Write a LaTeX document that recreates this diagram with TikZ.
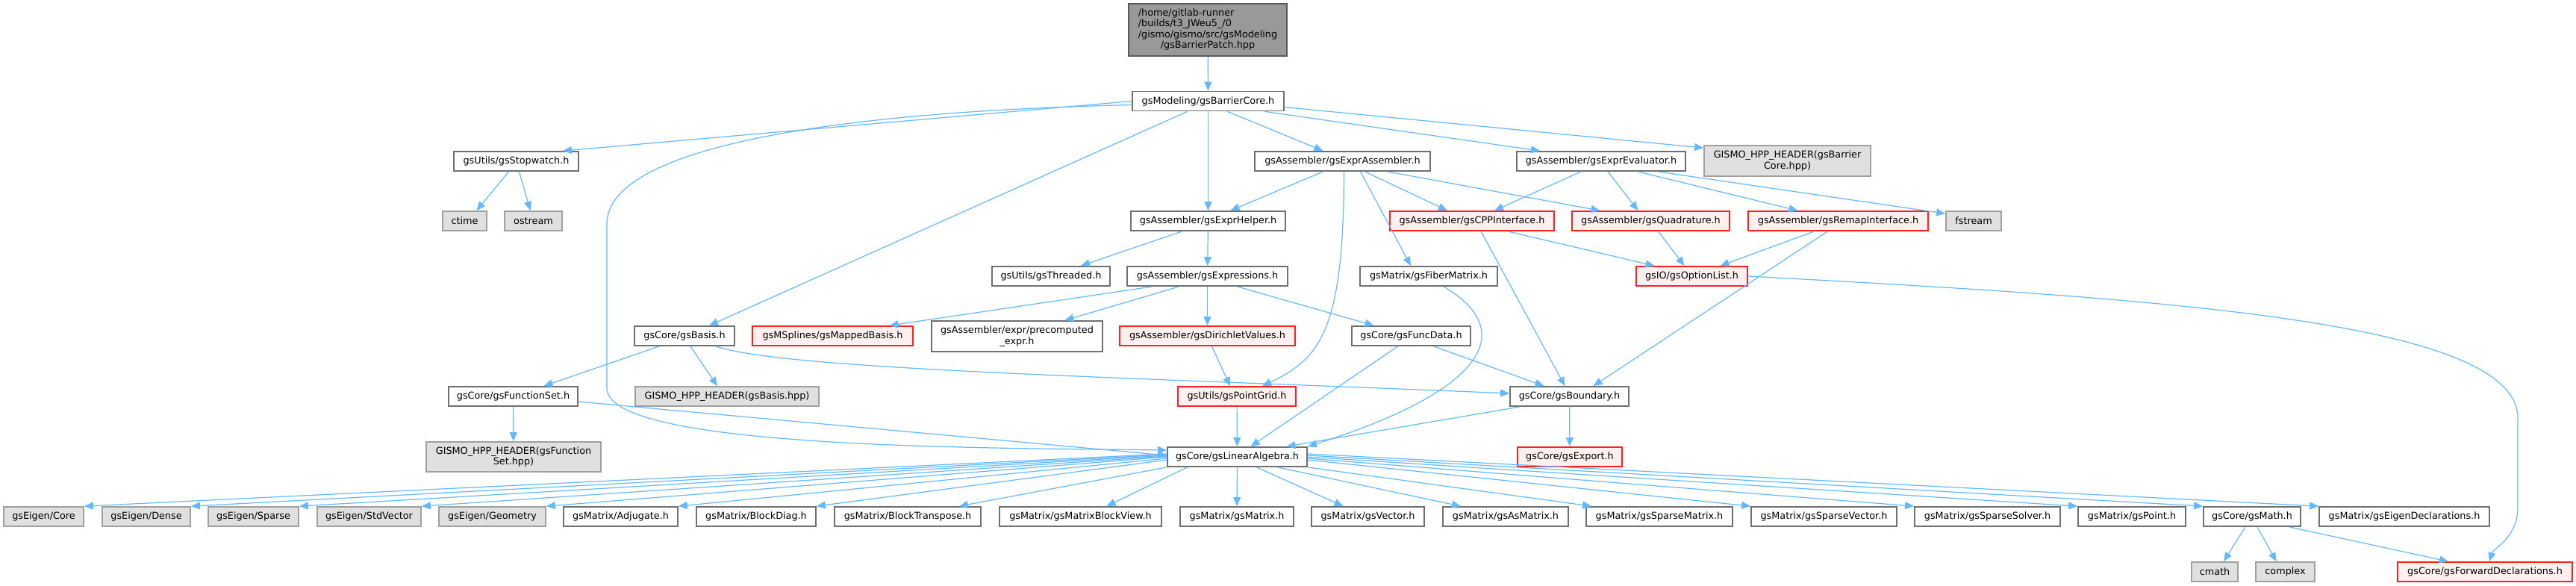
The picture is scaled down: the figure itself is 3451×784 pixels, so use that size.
\documentclass[tikz,border=0pt]{standalone}
\usepackage{fontspec}
\setmainfont{DejaVu Sans}
\usepackage{tikz}
\usetikzlibrary{arrows.meta}
\definecolor{edgeBlue}{HTML}{63B8FF}
\definecolor{boxGray}{HTML}{707070}
\definecolor{sysFill}{HTML}{E0E0E0}
\definecolor{sysDraw}{HTML}{A0A0A0}
\definecolor{redFill}{HTML}{FFF0F0}
\definecolor{redDraw}{HTML}{FF2020}
\definecolor{topFill}{HTML}{999999}

\begin{document}
\begin{tikzpicture}[x=0.5pt, y=-0.5pt,
  font=\fontsize{6.4pt}{7.3pt}\selectfont,
  hdr/.style={draw=boxGray, fill=white, line width=0.9pt, inner sep=0pt, align=center, minimum height=13pt},
  sysh/.style={hdr, draw=sysDraw, fill=sysFill},
  redh/.style={hdr, draw=redDraw, fill=redFill},
  toph/.style={hdr, draw=boxGray!80!black, fill=topFill, minimum height=35pt},
  dep/.style={draw=edgeBlue, line width=0.6pt, -{Triangle[length=6pt,width=5pt]}}]
\useasboundingbox (0,0) rectangle (3451,784);
% ---------- top rows ----------
\node[toph, minimum width=106pt] (top) at (1618,40)
  {\begin{tabular}{@{}l@{}}/home/gitlab-runner\\/builds/t3\_JWeu5\_/0\\/gismo/gismo/src/gsModeling\\\multicolumn{1}{@{}c@{}}{/gsBarrierPatch.hpp}\end{tabular}};
\node[hdr, minimum width=101.5pt] (bc) at (1618.5,135.5) {gsModeling/gsBarrierCore.h};
\node[hdr, minimum width=83.5pt] (sw) at (691.5,216) {gsUtils/gsStopwatch.h};
\node[hdr, minimum width=117.5pt] (asm) at (1798.5,216) {gsAssembler/gsExprAssembler.h};
\node[hdr, minimum width=113pt] (ev) at (2145,216) {gsAssembler/gsExprEvaluator.h};
\node[sysh, minimum width=111.5pt, minimum height=20.5pt] (gb) at (2394.5,215.5) {GISMO\_HPP\_HEADER(gsBarrier\\Core.hpp)};
\node[sysh, minimum width=29.5pt] (ctime) at (622.5,296) {ctime};
\node[sysh, minimum width=38.5pt] (ostrm) at (714.5,296) {ostream};
\node[hdr, minimum width=103.5pt] (hlp) at (1618.5,296) {gsAssembler/gsExprHelper.h};
\node[redh, minimum width=110pt] (cpp) at (1972,296) {gsAssembler/gsCPPInterface.h};
\node[redh, minimum width=105.5pt] (quad) at (2211.5,296) {gsAssembler/gsQuadrature.h};
\node[redh, minimum width=120.5pt] (remap) at (2462.5,296) {gsAssembler/gsRemapInterface.h};
\node[sysh, minimum width=37pt] (fstrm) at (2644,296) {fstream};
% ---------- middle rows ----------
\node[hdr, minimum width=79pt] (thr) at (1408,370) {gsUtils/gsThreaded.h};
\node[hdr, minimum width=107.5pt] (expr) at (1617.5,370) {gsAssembler/gsExpressions.h};
\node[hdr, minimum width=92pt] (fib) at (1914,370) {gsMatrix/gsFiberMatrix.h};
\node[redh, minimum width=74.5pt] (opt) at (2266.5,370) {gsIO/gsOptionList.h};
\node[hdr, minimum width=67pt] (basis) at (917,450) {gsCore/gsBasis.h};
\node[redh, minimum width=107.5pt] (mapped) at (1115.5,450) {gsMSplines/gsMappedBasis.h};
\node[hdr, minimum width=114.5pt, minimum height=20.5pt] (precomp) at (1362.5,450.5) {gsAssembler/expr/precomputed\\\_expr.h};
\node[redh, minimum width=117.5pt] (dir) at (1617.5,450) {gsAssembler/gsDirichletValues.h};
\node[hdr, minimum width=79.5pt] (fdata) at (1890.5,450) {gsCore/gsFuncData.h};
\node[hdr, minimum width=86.5pt] (fset) at (687.5,531) {gsCore/gsFunctionSet.h};
\node[sysh, minimum width=123pt] (gbasis) at (974,531) {GISMO\_HPP\_HEADER(gsBasis.hpp)};
\node[redh, minimum width=79pt] (pg) at (1657,531) {gsUtils/gsPointGrid.h};
\node[hdr, minimum width=79.5pt] (bd) at (2102.5,531) {gsCore/gsBoundary.h};
\node[sysh, minimum width=117pt, minimum height=20pt] (gfs) at (688,612) {GISMO\_HPP\_HEADER(gsFunction\\Set.hpp)};
\node[hdr, minimum width=93.5pt] (la) at (1657.5,612) {gsCore/gsLinearAlgebra.h};
\node[redh, minimum width=70pt] (exp) at (2103,612) {gsCore/gsExport.h};
% ---------- bottom rows ----------
\node[sysh, minimum width=53.5pt] (ecore) at (58.5,692) {gsEigen/Core};
\node[sysh, minimum width=59pt] (edense) at (196,692) {gsEigen/Dense};
\node[sysh, minimum width=60.5pt] (esparse) at (339.5,692) {gsEigen/Sparse};
\node[sysh, minimum width=69.5pt] (estd) at (494.5,692) {gsEigen/StdVector};
\node[sysh, minimum width=71.5pt] (egeo) at (659.5,692) {gsEigen/Geometry};
\node[hdr, minimum width=76.5pt] (adj) at (831.5,692) {gsMatrix/Adjugate.h};
\node[hdr, minimum width=80pt] (bdiag) at (1013,692) {gsMatrix/BlockDiag.h};
\node[hdr, minimum width=98pt] (btr) at (1216,692) {gsMatrix/BlockTranspose.h};
\node[hdr, minimum width=108.5pt] (mbv) at (1447.5,692) {gsMatrix/gsMatrixBlockView.h};
\node[hdr, minimum width=76pt] (mat) at (1657,692) {gsMatrix/gsMatrix.h};
\node[hdr, minimum width=75.5pt] (vec) at (1832.5,692) {gsMatrix/gsVector.h};
\node[hdr, minimum width=84pt] (asmat) at (2017,692) {gsMatrix/gsAsMatrix.h};
\node[hdr, minimum width=98pt] (spm) at (2223,692) {gsMatrix/gsSparseMatrix.h};
\node[hdr, minimum width=97.5pt] (spv) at (2443.5,692) {gsMatrix/gsSparseVector.h};
\node[hdr, minimum width=97.5pt] (sps) at (2662.5,692) {gsMatrix/gsSparseSolver.h};
\node[hdr, minimum width=72pt] (pnt) at (2856,692) {gsMatrix/gsPoint.h};
\node[hdr, minimum width=65pt] (math) at (3017,692) {gsCore/gsMath.h};
\node[hdr, minimum width=114pt] (edecl) at (3221,692) {gsMatrix/gsEigenDeclarations.h};
\node[sysh, minimum width=31pt] (cmath) at (2967,766) {cmath};
\node[sysh, minimum width=39.5pt] (cplx) at (3061.5,766) {complex};
\node[redh, minimum width=117pt] (fwd) at (3329,766) {gsCore/gsForwardDeclarations.h};
% ---------- edges from the top ----------
\draw[dep] (top) -- (bc);
\draw[dep] (bc.west) -- ([xshift=-11pt]sw.north east);
\draw[dep] ([yshift=-2.5pt]bc.west) .. controls (1100,150) and (813,200) .. (813,300) -- (813,520)
  .. controls (813,600) and (1300,600) .. ([yshift=4.5pt]la.west);
\draw[dep] ([xshift=-14pt]bc.south) -- ([xshift=16.5pt]basis.north);
\draw[dep] (bc) -- (hlp);
\draw[dep] ([xshift=13pt]bc.south) -- ([xshift=-13pt]asm.north);
\draw[dep] ([xshift=38pt]bc.south) -- ([xshift=-41pt]ev.north);
\draw[dep] ([yshift=-4pt]bc.east) -- ([yshift=-2pt]gb.north west);
\draw[dep] ([xshift=-5pt]sw.south) -- ([xshift=8pt]ctime.north);
\draw[dep] ([xshift=2pt]sw.south) -- ([xshift=-2pt]ostrm.north);
% ---------- assembler and evaluator ----------
\draw[dep] ([xshift=-13pt]asm.south) -- ([xshift=15pt]hlp.north);
\draw[dep] ([xshift=1pt]asm.south) .. controls (1800,440) and (1770,480) .. ([xshift=17pt]pg.north);
\draw[dep] ([xshift=12pt]asm.south) -- ([xshift=-12pt]fib.north);
\draw[dep] ([xshift=15pt]asm.south) -- ([xshift=-16.5pt]cpp.north);
\draw[dep] ([xshift=30pt]asm.south) -- ([xshift=-34pt]quad.north);
\draw[dep] ([xshift=-13.5pt]ev.south) -- ([xshift=15pt]cpp.north);
\draw[dep] ([xshift=4.5pt]ev.south) -- ([xshift=-8.5pt]quad.north);
\draw[dep] ([xshift=24.5pt]ev.south) -- ([xshift=-27pt]remap.north);
\draw[dep] ([xshift=38pt]ev.south) -- ([yshift=-2pt]fstrm.north west);
\draw[dep] ([xshift=24pt]cpp.south) -- ([xshift=-25pt]opt.north);
\draw[dep] ([xshift=6pt]cpp.south) -- ([xshift=-3pt]bd.north);
\draw[dep] ([xshift=5pt]quad.south) -- ([xshift=-5pt]opt.north);
\draw[dep] ([xshift=-16pt]remap.south) -- ([xshift=19pt]opt.north);
\draw[dep] ([xshift=-7pt]remap.south) -- ([xshift=16pt]bd.north);
\draw[dep] (opt.east) .. controls (2900,400) and (3373,430) .. (3373,560) -- (3373,680)
  .. controls (3373,720) and (3340,735) .. ([xshift=3pt]fwd.north);
% ---------- helper, expressions, basis ----------
\draw[dep] ([xshift=-17.5pt]hlp.south) -- ([xshift=20pt]thr.north);
\draw[dep] (hlp) -- (expr);
\draw[dep] ([xshift=-37pt]expr.south) -- ([xshift=38pt]mapped.north);
\draw[dep] ([xshift=-19pt]expr.south) -- ([xshift=32pt]precomp.north);
\draw[dep] (expr) -- (dir);
\draw[dep] ([xshift=20pt]expr.south) -- ([xshift=-25pt]fdata.north);
\draw[dep] ([xshift=3pt]dir.south) -- ([xshift=-4.5pt]pg.north);
\draw[dep] ([xshift=-9pt]fdata.south) -- ([xshift=9pt]la.north);
\draw[dep] ([xshift=15pt]fdata.south) -- ([xshift=-17pt]bd.north);
\draw[dep] ([xshift=10pt]fib.south) .. controls (2030,440) and (2000,520) .. (la.north east);
\draw[dep] ([xshift=-33pt]bd.south) -- ([xshift=33pt]la.north);
\draw[dep] (bd) -- (exp);
\draw[dep] ([xshift=-17pt]basis.south) -- ([xshift=20.5pt]fset.north);
\draw[dep] ([xshift=4pt]basis.south) -- ([xshift=-6.5pt]gbasis.north);
\draw[dep] ([xshift=21pt]basis.south) .. controls (1050,495) and (1500,505) .. ([yshift=2pt]bd.west);
\draw[dep] (fset) -- (gfs);
\draw[dep] ([yshift=-3.5pt]fset.east) -- ([yshift=1pt]la.west);
\draw[dep] (pg) -- (la);
% ---------- linear algebra fan ----------
\draw[dep] ([yshift=2pt]la.west) -- (ecore.north east);
\draw[dep] ([yshift=1.5pt]la.west) -- (edense.north east);
\draw[dep] ([yshift=1pt]la.west) -- (esparse.north east);
\draw[dep] ([yshift=0.5pt]la.west) -- (estd.north east);
\draw[dep] (la.west) -- (egeo.north east);
\draw[dep] ([yshift=-1pt]la.west) -- (adj.north east);
\draw[dep] ([yshift=-2pt]la.west) -- (bdiag.north east);
\draw[dep] (la.south west) -- ([xshift=-15pt]btr.north east);
\draw[dep] ([xshift=-33.5pt]la.south) -- ([xshift=17.5pt]mbv.north);
\draw[dep] (la) -- (mat);
\draw[dep] ([xshift=13pt]la.south) -- ([xshift=-16.5pt]vec.north);
\draw[dep] ([xshift=27pt]la.south) -- ([xshift=-30pt]asmat.north);
\draw[dep] (la.south east) -- ([xshift=4pt]spm.north west);
\draw[dep] ([yshift=-2pt]la.east) -- (spv.north west);
\draw[dep] ([yshift=-1pt]la.east) -- (sps.north west);
\draw[dep] (la.east) -- (pnt.north west);
\draw[dep] ([yshift=1pt]la.east) -- (math.north west);
\draw[dep] ([yshift=2pt]la.east) -- (edecl.north west);
\draw[dep] ([xshift=-4.5pt]math.south) -- ([xshift=6pt]cmath.north);
\draw[dep] ([xshift=3.5pt]math.south) -- ([xshift=-6pt]cplx.north);
\draw[dep] ([xshift=25pt]math.south) -- ([xshift=-24.5pt]fwd.north);
\end{tikzpicture}
\end{document}
